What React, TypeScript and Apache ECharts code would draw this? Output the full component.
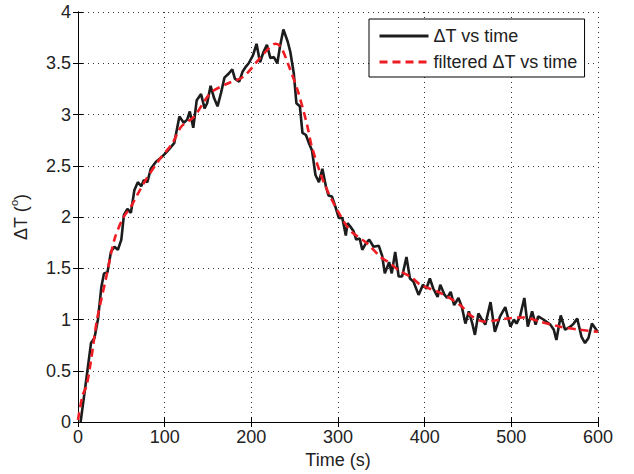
import React, { useEffect, useRef } from "react";
import * as echarts from "echarts";

const rawTime: number[] = [3, 9, 15, 19, 23, 27, 30, 34, 38, 42, 46, 50, 53, 57, 61, 65, 69, 73, 76, 80, 84, 90, 96, 103, 111, 117, 122, 126, 129, 133, 137, 142, 146, 149, 153, 157, 161, 165, 169, 174, 178, 181, 186, 190, 194, 197, 202, 206, 210, 214, 218, 222, 226, 230, 233, 237, 242, 245, 249, 252, 256, 259, 263, 266, 270, 274, 278, 282, 286, 289, 293, 297, 301, 305, 309, 311, 314, 318, 321, 325, 328, 332, 336, 341, 347, 351, 354, 359, 362, 366, 370, 374, 379, 383, 387, 393, 398, 402, 406, 410, 415, 418, 423, 426, 430, 434, 439, 443, 447, 451, 455, 458, 462, 466, 470, 476, 481, 487, 493, 499, 503, 506, 510, 515, 519, 524, 528, 531, 537, 545, 549, 552, 557, 562, 568, 572, 576, 581, 585, 589, 593, 598, 600];
const rawDeltaT: number[] = [0.0, 0.38, 0.77, 0.82, 1.0, 1.32, 1.45, 1.46, 1.66, 1.71, 1.68, 1.78, 2.02, 2.08, 2.04, 2.26, 2.34, 2.30, 2.36, 2.34, 2.47, 2.54, 2.58, 2.64, 2.72, 2.98, 2.92, 2.95, 3.03, 2.87, 3.14, 3.20, 3.06, 3.11, 3.28, 3.16, 3.08, 3.21, 3.36, 3.40, 3.44, 3.35, 3.32, 3.42, 3.47, 3.50, 3.58, 3.69, 3.51, 3.61, 3.68, 3.55, 3.56, 3.50, 3.66, 3.83, 3.71, 3.61, 3.40, 3.11, 3.08, 2.82, 2.80, 2.73, 2.65, 2.41, 2.34, 2.47, 2.30, 2.21, 2.20, 2.10, 1.99, 1.99, 1.82, 1.94, 1.91, 1.86, 1.78, 1.79, 1.68, 1.74, 1.78, 1.71, 1.72, 1.62, 1.45, 1.56, 1.45, 1.66, 1.42, 1.42, 1.61, 1.40, 1.37, 1.24, 1.34, 1.30, 1.40, 1.30, 1.22, 1.34, 1.24, 1.21, 1.27, 1.14, 1.21, 1.12, 0.96, 1.08, 0.96, 0.85, 1.06, 1.00, 0.95, 1.17, 0.88, 1.03, 1.12, 0.93, 1.00, 0.96, 1.03, 1.21, 0.93, 1.08, 0.95, 1.03, 1.00, 0.95, 0.90, 0.80, 1.04, 0.90, 0.93, 0.96, 1.01, 0.83, 0.77, 0.82, 0.96, 0.90, 0.88];

const filtTime: number[] = [0, 5, 10, 15, 22, 32, 42, 52, 61, 70, 78, 94, 109, 119, 134, 153, 172, 191, 211, 228, 234, 243, 254, 264, 270, 284, 299, 314, 334, 349, 360, 370, 385, 395, 418, 441, 453, 468, 481, 495, 514, 533, 556, 579, 600];
const filtDeltaT: number[] = [0.02, 0.25, 0.36, 0.6, 1.0, 1.39, 1.78, 1.99, 2.10, 2.24, 2.36, 2.56, 2.72, 2.88, 2.98, 3.21, 3.30, 3.37, 3.56, 3.69, 3.66, 3.48, 3.22, 2.91, 2.68, 2.33, 2.07, 1.87, 1.74, 1.61, 1.55, 1.48, 1.41, 1.34, 1.26, 1.14, 1.04, 0.98, 0.99, 1.01, 1.02, 0.98, 0.93, 0.90, 0.88];

const xTicks = { min: 0, max: 600, interval: 100 };
const yTicks = { min: 0, max: 4, interval: 0.5 };

const FONT = "'Liberation Sans', Arial, Helvetica, sans-serif";
const TXT = "#222";

export default function App() {
  const ref = useRef<HTMLDivElement>(null);
  useEffect(() => {
    if (!ref.current) return;
    const chart = echarts.init(ref.current, null, { renderer: "svg" });
    const rawData = rawTime.map((t, i) => [t, rawDeltaT[i]]);
    const filtData = filtTime.map((t, i) => [t, filtDeltaT[i]]);
    const axisLine = { show: true, lineStyle: { color: "#000", width: 1 } };
    const tick = { show: true, inside: true, length: 5, lineStyle: { color: "#000" } };
    const grid = { show: true, lineStyle: { color: "#333", width: 1, type: [1, 4] as any } };
    chart.setOption({
      animation: false,
      backgroundColor: "#fff",
      textStyle: { fontFamily: FONT },
      grid: { left: 77, right: 36, top: 12, bottom: 52, containLabel: false },
      xAxis: [
        {
          type: "value",
          ...xTicks,
          position: "bottom",
          name: "Time (s)",
          nameLocation: "middle",
          nameGap: 28,
          nameTextStyle: { fontSize: 18, color: TXT, fontFamily: FONT },
          axisLine,
          axisTick: tick,
          axisLabel: { fontSize: 18, color: TXT, margin: 6, fontFamily: FONT },
          splitLine: grid,
        },
        {
          type: "value",
          ...xTicks,
          position: "top",
          axisLine,
          axisTick: tick,
          axisLabel: { show: false },
          splitLine: { show: false },
        },
      ],
      yAxis: [
        {
          type: "value",
          ...yTicks,
          position: "left",
          name: "{a|ΔT (}{b|o}{a|)}",
          nameLocation: "middle",
          nameGap: 48,
          nameRotate: 90,
          nameTextStyle: {
            rich: {
              a: { fontSize: 18, color: TXT, fontFamily: FONT, lineHeight: 22, verticalAlign: "bottom" },
              b: { fontSize: 11, color: TXT, fontFamily: FONT, lineHeight: 22, verticalAlign: "top" },
            },
          },
          axisLine,
          axisTick: tick,
          axisLabel: { fontSize: 18, color: TXT, margin: 7, fontFamily: FONT },
          splitLine: grid,
        },
        {
          type: "value",
          ...yTicks,
          position: "right",
          axisLine,
          axisTick: tick,
          axisLabel: { show: false },
          splitLine: { show: false },
        },
      ],
      legend: {
        left: 369,
        top: 19,
        orient: "vertical",
        backgroundColor: "#fff",
        borderColor: "#000",
        borderWidth: 1,
        padding: [8, 7, 6, 9],
        itemWidth: 49,
        itemHeight: 14,
        itemGap: 8,
        itemStyle: { opacity: 0 },
        lineStyle: { width: 3, type: "inherit" },
        textStyle: { fontSize: 18, lineHeight: 18, color: TXT, fontFamily: FONT },
        data: ["ΔT vs time", "filtered ΔT vs time"],
      },
      series: [
        {
          name: "ΔT vs time",
          type: "line",
          data: rawData,
          showSymbol: false,
          symbol: "none",
          lineStyle: { color: "#1c1c1c", width: 2.6 },
          itemStyle: { color: "#1c1c1c" },
          z: 2,
        },
        {
          name: "filtered ΔT vs time",
          type: "line",
          data: filtData,
          showSymbol: false,
          symbol: "none",
          smooth: 0.3,
          lineStyle: { color: "#f01c24", width: 2.6, type: [8, 5] },
          itemStyle: { color: "#f01c24" },
          z: 3,
        },
      ],
    });
    return () => chart.dispose();
  }, []);
  return <div ref={ref} style={{ width: 634, height: 474, position: "absolute", left: 0, top: 0 }} />;
}
